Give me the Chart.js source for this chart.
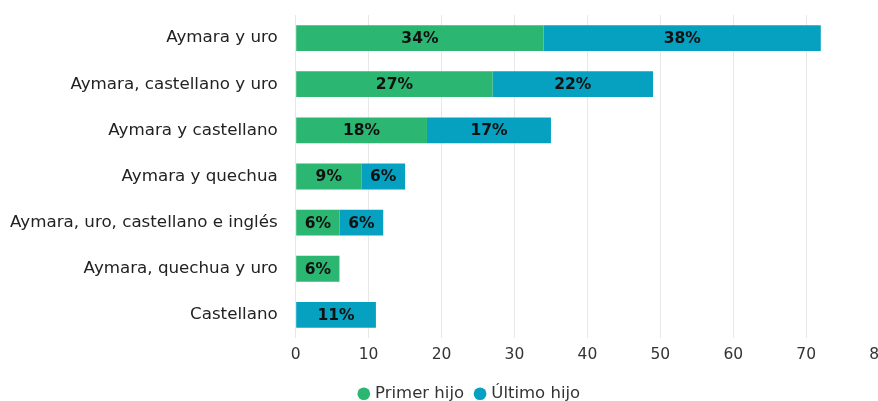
<!DOCTYPE html>
<html>
<head>
<meta charset="utf-8">
<script src="https://cdn.jsdelivr.net/npm/chart.js@4.4.1/dist/chart.umd.min.js"></script>
<style>
  html, body { margin: 0; padding: 0; background: #fff; overflow: hidden; }
  #wrap { width: 897px; height: 417px; margin-top: -5px; position: relative; }
</style>
</head>
<body>
<div id="wrap"><canvas id="chart"></canvas></div>
<script>
const categories = [
  'Aymara y uro',
  'Aymara, castellano y uro',
  'Aymara y castellano',
  'Aymara y quechua',
  'Aymara, uro, castellano e inglés',
  'Aymara, quechua y uro',
  'Castellano'
];
const primerHijo = [34, 27, 18, 9, 6, 6, 0];
const ultimoHijo = [38, 22, 17, 6, 6, 0, 11];
const xTicks = [0, 10, 20, 30, 40, 50, 60, 70, 80];

const GREEN = '#2bb672';
const BLUE = '#06a0c0';
const FONT = '"DejaVu Sans", Verdana, sans-serif';

// etiquetas de porcentaje en el centro de cada barra
const barLabels = {
  id: 'barLabels',
  afterDatasetsDraw(chart) {
    const ctx = chart.ctx;
    ctx.save();
    ctx.font = 'bold 15.5px ' + FONT;
    ctx.fillStyle = '#111';
    ctx.textAlign = 'center';
    ctx.textBaseline = 'middle';
    chart.data.datasets.forEach((ds, i) => {
      const meta = chart.getDatasetMeta(i);
      meta.data.forEach((bar, j) => {
        const v = ds.data[j];
        if (!v) return;
        const x = (bar.x + bar.base) / 2;
        ctx.fillText(v + '%', x, bar.y + 1);
      });
    });
    ctx.restore();
  }
};

// la leyenda va un poco a la derecha del centro
const legendShift = {
  id: 'legendShift',
  afterLayout(chart) {
    const l = chart.legend;
    if (!l) return;
    l.left += 22;
    l.right += 22;
  }
};

Chart.defaults.font.family = FONT;
Chart.defaults.font.size = 16;
Chart.defaults.color = '#333';

new Chart(document.getElementById('chart'), {
  type: 'bar',
  data: {
    labels: categories,
    datasets: [
      { label: 'Primer hijo', data: primerHijo, backgroundColor: GREEN },
      { label: 'Último hijo', data: ultimoHijo, backgroundColor: BLUE }
    ]
  },
  options: {
    indexAxis: 'y',
    responsive: true,
    maintainAspectRatio: false,
    animation: false,
    layout: { padding: { top: 0, right: 0, left: 0, bottom: 0 } },
    datasets: {
      bar: { categoryPercentage: 0.8, barPercentage: 0.7 }
    },
    scales: {
      x: {
        stacked: true,
        min: 0,
        max: 80,
        afterBuildTicks: axis => { axis.ticks = xTicks.map(v => ({ value: v })); },
        grid: { color: '#e8e8e8', drawTicks: false },
        border: { display: false },
        ticks: { color: '#333', padding: 8, font: { size: 15.5 } }
      },
      y: {
        stacked: true,
        grid: { display: false },
        border: { display: false },
        ticks: { color: '#222', padding: 10, font: { size: 16.7 } }
      }
    },
    plugins: {
      legend: {
        position: 'bottom',
        labels: {
          usePointStyle: true,
          pointStyle: 'circle',
          boxWidth: 6,
          boxHeight: 9,
          padding: 13,
          color: '#333',
          font: { size: 16.5 }
        }
      },
      tooltip: { enabled: false }
    }
  },
  plugins: [barLabels, legendShift]
});
</script>
</body>
</html>
